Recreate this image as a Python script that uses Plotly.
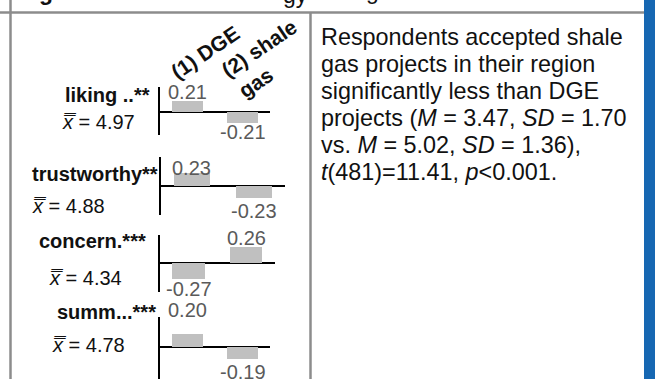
import plotly.graph_objects as go

W, H = 655, 379

# ---- data -------------------------------------------------------------
items = ["liking ..**", "trustworthy**", "concern.***", "summ...***"]
means = [4.97, 4.88, 4.34, 4.78]
groups = ["(1) DGE", "(2) shale gas"]
dge_vals = [0.21, 0.23, -0.27, 0.20]
shale_vals = [-0.21, -0.23, 0.26, -0.19]

summary_lines = [
    "Respondents accepted shale",
    "gas projects in their region",
    "significantly less than DGE",
    "projects (<i>M</i> = 3.47, <i>SD</i> = 1.70",
    "vs. <i>M</i> = 5.02, <i>SD</i> = 1.36),",
    "<i>t</i>(481)=11.41, <i>p</i>&lt;0.001.",
]

# ---- geometry (pixels) ------------------------------------------------
PANEL_X = [(160, 270), (160.5, 284.5), (160.3, 275), (160, 270)]
PANEL_Y = [(87, 135), (157, 215), (235, 292), (317, 379)]
ZERO_Y = [111.7, 185.7, 262.7, 346.7]
PX_PER_UNIT = [52.4, 54, 62, 64]
LABEL_GAP = [(9, 9), (5.6, 12.4), (9.4, 8.3), (24, 13.4)]
ITEM_POS = [(63, 95), (30, 173.5), (37, 241), (55, 311.7)]
MEAN_POS = [(60, 121.5), (30, 205.5), (47, 277.7), (50, 344.5)]

FONT = "Liberation Sans, Arial, Helvetica, sans-serif"
BAR = "#c0c0c0"
LABEL_GRAY = "#5a5a5a"
RULE = "#8c8c8c"
BLUE = "#1667b2"


def px(x):
    return x / W


def py(y):
    return 1 - y / H


fig = go.Figure()
layout = {}
annotations = []

for i in range(4):
    n = i + 1
    suffix = "" if n == 1 else str(n)
    xa, ya = "x" + suffix, "y" + suffix
    vals = [dge_vals[i], shale_vals[i]]
    fig.add_trace(go.Bar(
        x=[0, 1], y=vals, width=0.57,
        marker=dict(color=BAR, line=dict(width=0)),
        xaxis=xa, yaxis=ya, hoverinfo="skip", showlegend=False,
    ))
    x0, x1 = PANEL_X[i]
    y0, y1 = PANEL_Y[i]
    z, s = ZERO_Y[i], PX_PER_UNIT[i]
    layout["xaxis" + suffix] = dict(
        domain=[px(x0), px(x1)], range=[-0.5, 1.5], visible=False,
        anchor=ya, fixedrange=True,
    )
    layout["yaxis" + suffix] = dict(
        domain=[py(y1), py(y0)], range=[-(y1 - z) / s, (z - y0) / s],
        showline=True, linecolor="black", linewidth=2, showgrid=False,
        zeroline=True, zerolinecolor="black", zerolinewidth=2,
        showticklabels=False, ticks="", anchor=xa, fixedrange=True,
    )
    # value labels
    for j, v in enumerate(vals):
        gap = LABEL_GAP[i][j]
        annotations.append(dict(
            xref=xa, yref=ya, x=j, y=v, yshift=gap if v > 0 else -gap,
            text=f"{v:.2f}", showarrow=False, xanchor="center", yanchor="middle",
            font=dict(family=FONT, size=20, color=LABEL_GRAY),
        ))
    # row labels
    lx, ly = ITEM_POS[i]
    annotations.append(dict(
        xref="paper", yref="paper", x=px(lx), y=py(ly), text=f"<b>{items[i]}</b>",
        showarrow=False, xanchor="left", yanchor="middle",
        font=dict(family=FONT, size=20, color="#111111"),
    ))
    mx, my = MEAN_POS[i]
    annotations.append(dict(
        xref="paper", yref="paper", x=px(mx), y=py(my),
        text=f"<i>x\u033f</i> = {means[i]:.2f}",
        showarrow=False, xanchor="left", yanchor="middle",
        font=dict(family=FONT, size=20, color="#111111"),
    ))

# rotated column headers
first = groups[0]
second_a, second_b = groups[1].rsplit(" ", 1)
for text, cx, cy in [(first, 205, 53), (second_a, 259, 49), (second_b, 256, 83)]:
    annotations.append(dict(
        xref="paper", yref="paper", x=px(cx), y=py(cy), text=f"<b>{text}</b>",
        showarrow=False, xanchor="center", yanchor="middle", textangle=-34,
        font=dict(family=FONT, size=21, color="#111111"),
    ))

# summary paragraph
for k, line in enumerate(summary_lines):
    base = 45 + 27 * k
    annotations.append(dict(
        xref="paper", yref="paper", x=px(319), y=py(base - 8), text=line,
        showarrow=False, xanchor="left", yanchor="middle",
        font=dict(family=FONT, size=23.4, color="#111111"),
    ))

# descenders of the header row above the table
for text, cx, base, bold in [("g", 46, 0, True), ("gy", 295, 3, False), ("g", 372, -1, False)]:
    annotations.append(dict(
        xref="paper", yref="paper", x=px(cx), y=py(base - 8),
        text=f"<b>{text}</b>" if bold else text,
        showarrow=False, xanchor="center", yanchor="middle",
        font=dict(family=FONT, size=23, color="#111111"),
    ))

shapes = [
    dict(type="line", xref="paper", yref="paper", x0=0, x1=px(644), y0=py(12.5), y1=py(12.5),
         line=dict(color=RULE, width=2.5)),
    dict(type="line", xref="paper", yref="paper", x0=px(10.5), x1=px(10.5), y0=0, y1=1,
         line=dict(color=RULE, width=2.5)),
    dict(type="line", xref="paper", yref="paper", x0=px(310.5), x1=px(310.5), y0=0, y1=py(12.5),
         line=dict(color=RULE, width=2.5)),
    dict(type="rect", xref="paper", yref="paper", x0=px(644), x1=1, y0=0, y1=1,
         line=dict(width=0), fillcolor=BLUE),
]

fig.update_layout(
    width=W, height=H, margin=dict(l=0, r=0, t=0, b=0),
    paper_bgcolor="white", plot_bgcolor="rgba(0,0,0,0)",
    bargap=0, annotations=annotations, shapes=shapes, showlegend=False,
    **layout,
)

fig.write_html("out.html", config={"displayModeBar": False})
